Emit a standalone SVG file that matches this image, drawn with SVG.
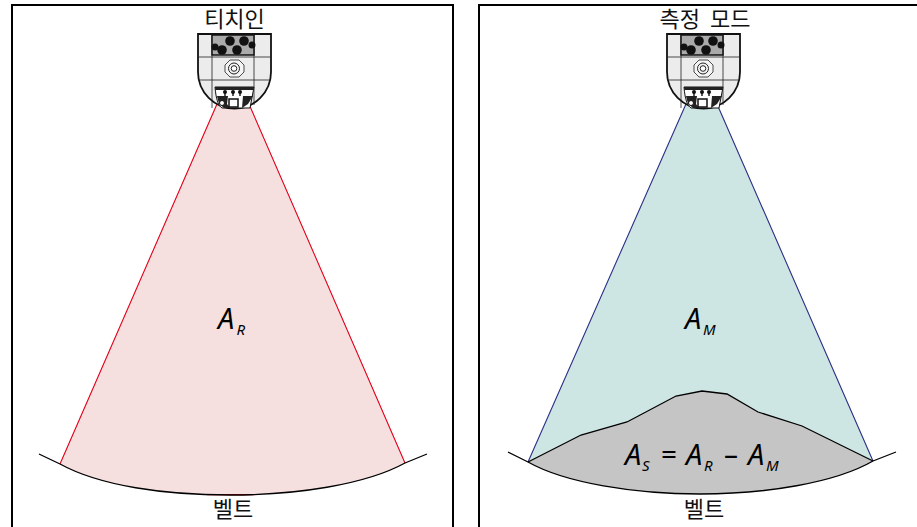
<svg xmlns="http://www.w3.org/2000/svg" width="917" height="527" viewBox="0 0 917 527">
<style>
.frame{fill:none;stroke:#000;stroke-width:2}
.belt{fill:none;stroke:#000;stroke-width:1.300}
.t{font-family:"Noto Sans CJK KR","Noto Sans",sans-serif;font-size:22px;fill:#111;text-anchor:middle}
.m{font-family:"Noto Sans","Open Sans",sans-serif;font-style:italic;font-size:29px;fill:#000}
.s{font-size:15px}
.u{font-family:"Noto Sans","Open Sans",sans-serif;font-size:28px;fill:#000}
.l{fill:none;stroke:#222;stroke-width:.8}
</style>
<defs>
<g id="robot">
<path d="M0 1H73V39A36.500 36.500 0 0 1 0 39Z" fill="#ececec" stroke="#111" stroke-width="1.800"/>
<path class="l" d="M0 24H73M0 47H73M14 1V75M56 1V72"/>
<path d="M14 2H56V22H14Z" fill="#aaa" stroke="#111" stroke-width="1.500"/>
<g fill="#111"><circle cx="17" cy="14" r="3.500"/><circle cx="24" cy="17" r="4.800"/><circle cx="32" cy="8" r="4.800"/><circle cx="39" cy="17" r="4.800"/><circle cx="46" cy="8" r="4.800"/><circle cx="54" cy="12" r="3.500"/></g>
<path d="M32 27L41 27L46 32L46 39L41 44L32 44L27 39L27 32Z" fill="#f4f4f4" stroke="#222" stroke-width=".8"/>
<circle cx="36" cy="35.500" r="5.500" fill="none" stroke="#222"/><circle cx="36" cy="35.500" r="2.800" fill="#fff" stroke="#222"/>
<path d="M17 54H56L52 75H24C20 72 18 66 17 54Z" fill="#fff" stroke="#111" stroke-width="1"/>
<path d="M17 54H56L55 57H17.500Z" fill="#222"/>
<path d="M19 63L30 63L29 71L32 75H26C22 72 20 69 19 63ZM45 63L55 63L50 71L44 75Z" fill="#222"/>
<path d="M31 66H40V74H31Z" fill="#fff" stroke="#111" stroke-width="1.500"/>
<g fill="#111"><circle cx="27" cy="59" r="2"/><circle cx="35" cy="59" r="2"/><circle cx="42" cy="59" r="2"/><circle cx="24" cy="70" r="2.500" fill="#fff" stroke="#111"/></g>
<path d="M27 59V63M35 59V63M42 59V63" fill="none" stroke="#111" stroke-width="1.400"/>
</g>
</defs>
<g id="connectors">
<path d="M217 104L60 464C100 486 165 495 230 495C295 495 365 485 405 463L249 104Z" fill="#f6dfdf" stroke="none"/>
<path d="M217 104L60 464M249 104L405 463M207 494.600H253" fill="none" stroke="#e2001a" stroke-width="1.100"/>
<path class="belt" d="M39 454L60 464C100 486 165 495 230 495C295 495 365 485 405 463L427 454"/>
<path d="M686 104L528 462L873 461L717 104Z" fill="#cde5e3"/>
<path d="M528 462L581 435L627 422L676 396L702 391L727 394L758 412L802 426L873 461C835 483 765 494 700 494C635 494 565 483 528 462Z" fill="#c5c5c5"/>
<path d="M686 104L528 462M717 104L873 461" fill="none" stroke="#2b2f86" stroke-width="1.100"/>
<path class="belt" d="M528 462L581 435L627 422L676 396L702 391L727 394L758 412L802 426L873 461"/>
<path class="belt" d="M508 452L528 462C565 483 635 494 700 494C765 494 835 483 873 461L896 452"/>
</g>
<g id="left-panel">
<path class="frame" d="M12 527V5H453V527"/>
<text class="t" x="234.500" y="27">티치인</text>
<use href="#robot" x="198" y="33"/>
<text class="m" x="218" y="329">A</text>
<text class="m s" x="236.500" y="335">R</text>
<text class="t" x="233" y="517">벨트</text>
</g>
<g id="right-panel">
<path class="frame" d="M479 527V5H917"/>
<text class="t" x="705" y="27" word-spacing="5">측정 모드</text>
<use href="#robot" x="667" y="33"/>
<text class="m" x="685" y="329">A</text>
<text class="m s" x="703" y="335">M</text>
<text class="m" x="625" y="465">A</text>
<text class="m s" x="642" y="471">S</text>
<text class="u" x="661" y="464">=</text>
<text class="m" x="686" y="465">A</text>
<text class="m s" x="704" y="471">R</text>
<text class="u" x="724" y="464">–</text>
<text class="m" x="748" y="465">A</text>
<text class="m s" x="766" y="471">M</text>
<text class="t" x="704" y="517">벨트</text>
</g>
</svg>
